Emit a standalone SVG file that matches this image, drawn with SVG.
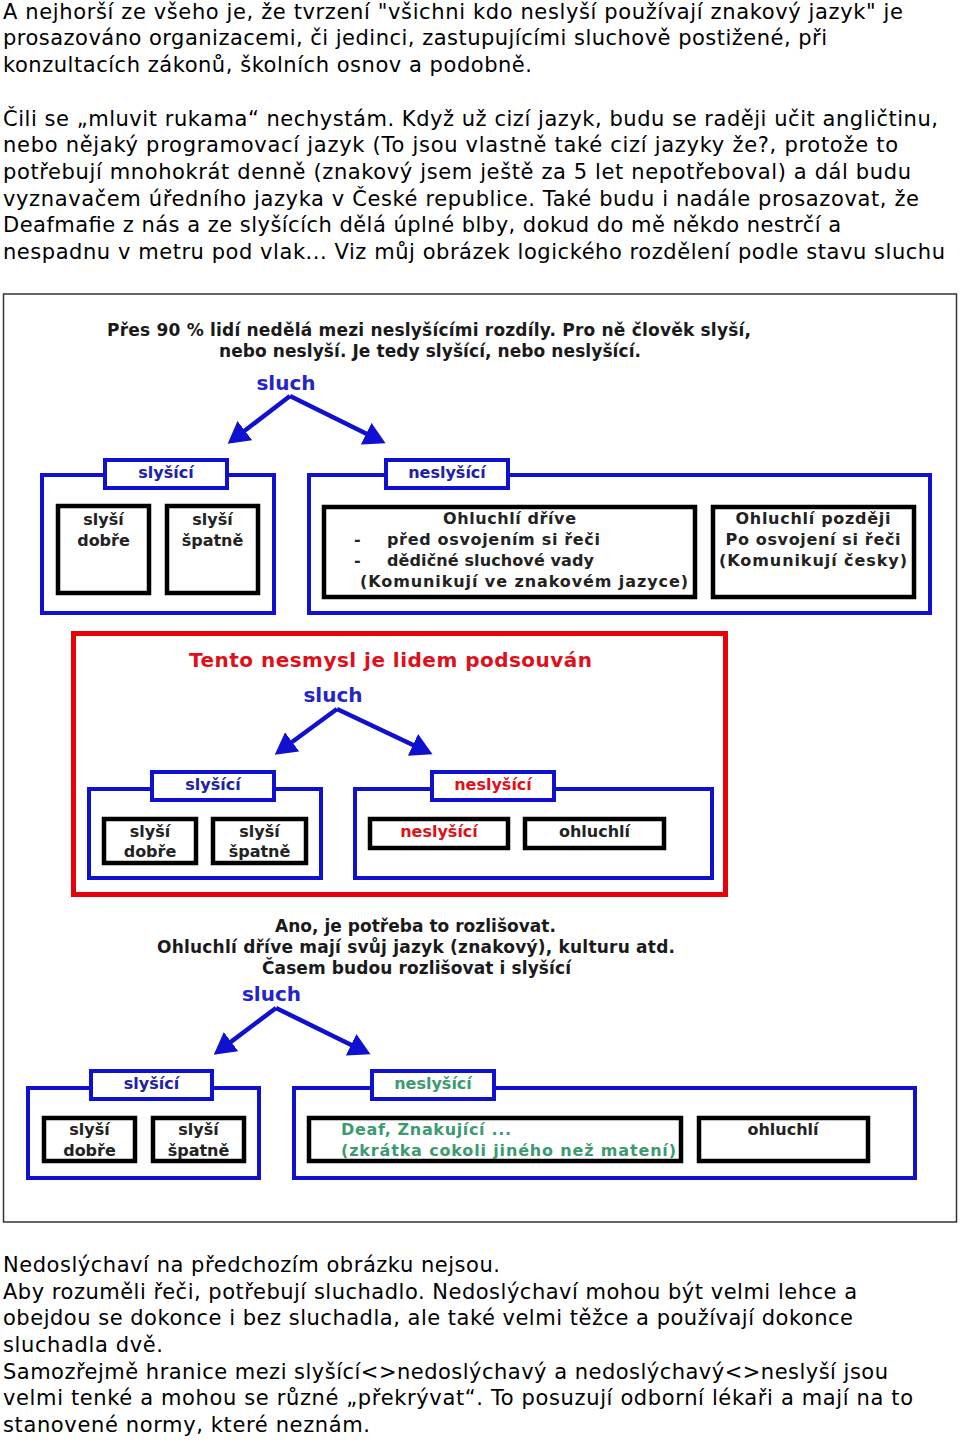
<svg xmlns="http://www.w3.org/2000/svg" width="960" height="1440" viewBox="0 0 960 1440">
<style>
.body{font-family:"DejaVu Sans",Verdana,sans-serif;font-size:21px;fill:#000}
.b{font-family:"DejaVu Sans","Liberation Sans",sans-serif;font-weight:bold;font-size:16px}
.ttl{fill:#1a1a1a;font-size:17px}
.sl{font-size:20px;fill:#2424c8;text-anchor:middle}
.tab{fill:#2020a8;text-anchor:middle}
.red{fill:#e0101a}
.big{font-size:20px}
.grn{fill:#3c9a70}
.dk{fill:#222;text-anchor:middle}
.grp{fill:none;stroke:#1010d0;stroke-width:4}
.tabr{fill:#fff;stroke:#1010d0;stroke-width:4}
.bx{fill:#fff;stroke:#000;stroke-width:4.5}
.arr{stroke:#1010d0;stroke-width:4.5;fill:none;marker-end:url(#ah)}
.mid{text-anchor:middle}
</style>
<defs>
<marker id="ah" markerUnits="userSpaceOnUse" markerWidth="24" markerHeight="24" refX="4" refY="10" orient="auto" viewBox="0 0 20 20">
<path d="M0,0 L18,10 L0,20 z" fill="#1010d0"/>
</marker>
</defs>
<rect width="960" height="1440" fill="#fff"/>

<g id="intro">
<text class="body" x="3" y="19" textLength="900">A nejhorší ze všeho je, že tvrzení "všichni kdo neslyší používají znakový jazyk" je</text>
<text class="body" x="3" y="45" textLength="824">prosazováno organizacemi, či jedinci, zastupujícími sluchově postižené, při</text>
<text class="body" x="3" y="72" textLength="529">konzultacích zákonů, školních osnov a podobně.</text>
<text class="body" x="3" y="126" textLength="935">Čili se „mluvit rukama“ nechystám. Když už cizí jazyk, budu se raději učit angličtinu,</text>
<text class="body" x="3" y="152" textLength="895">nebo nějaký programovací jazyk (To jsou vlastně také cizí jazyky že?, protože to</text>
<text class="body" x="3" y="179" textLength="908">potřebují mnohokrát denně (znakový jsem ještě za 5 let nepotřeboval) a dál budu</text>
<text class="body" x="3" y="206" textLength="916">vyznavačem úředního jazyka v České republice. Také budu i nadále prosazovat, že</text>
<text class="body" x="3" y="232" textLength="838">Deafmafie z nás a ze slyšících dělá úplné blby, dokud do mě někdo nestrčí a</text>
<text class="body" x="3" y="259" textLength="942">nespadnu v metru pod vlak... Viz můj obrázek logického rozdělení podle stavu sluchu</text>
</g>

<rect id="frame" x="3.5" y="294" width="953" height="928" fill="#fff" stroke="#333" stroke-width="1.5"/>

<g id="connectors">
<line class="arr" x1="290" y1="396" x2="241" y2="433.5"/>
<line class="arr" x1="290" y1="396" x2="370.5" y2="435.8"/>
<line class="arr" x1="337" y1="709" x2="288.3" y2="744.7"/>
<line class="arr" x1="337" y1="709" x2="417.3" y2="747"/>
<line class="arr" x1="276" y1="1008" x2="227.2" y2="1044.6"/>
<line class="arr" x1="276" y1="1008" x2="355.4" y2="1046.9"/>
</g>

<g id="s1-title">
<text class="b ttl" x="107" y="336" textLength="644">Přes 90 % lidí nedělá mezi neslyšícími rozdíly. Pro ně člověk slyší,</text>
<text class="b ttl" x="219" y="357" textLength="422">nebo neslyší. Je tedy slyšící, nebo neslyšící.</text>
</g>
<g id="s1-sluch"><text class="b sl" x="286" y="390">sluch</text></g>

<g id="s1-hearing">
<rect class="grp" x="42" y="475" width="232" height="138"/>
<rect class="tabr" x="105" y="460" width="122" height="28"/>
<text class="b tab" x="166" y="478">slyšící</text>
</g>
<g id="s1-good">
<rect class="bx" x="58" y="506" width="91" height="87"/>
<text class="b dk" x="103.5" y="525">slyší</text>
<text class="b dk" x="103.5" y="546">dobře</text>
</g>
<g id="s1-bad">
<rect class="bx" x="167" y="506" width="91" height="87"/>
<text class="b dk" x="212.5" y="525">slyší</text>
<text class="b dk" x="212.5" y="546">špatně</text>
</g>
<g id="s1-deaf">
<rect class="grp" x="309" y="475" width="621" height="138"/>
<rect class="tabr" x="386" y="460" width="122" height="28"/>
<text class="b tab" x="447" y="478">neslyšící</text>
</g>
<g id="s1-early">
<rect class="bx" x="324" y="507" width="371" height="90"/>
<text class="b dk" x="509.5" y="524" textLength="133">Ohluchlí dříve</text>
<text class="b" fill="#222" x="354" y="545">-</text>
<text class="b" fill="#222" x="387" y="545" textLength="213">před osvojením si řeči</text>
<text class="b" fill="#222" x="354" y="566">-</text>
<text class="b" fill="#222" x="387" y="566" textLength="207">dědičné sluchové vady</text>
<text class="b" fill="#222" x="360" y="587" textLength="328">(Komunikují ve znakovém jazyce)</text>
</g>
<g id="s1-late">
<rect class="bx" x="713" y="507" width="201" height="90"/>
<text class="b dk" x="813" y="524" textLength="155">Ohluchlí později</text>
<text class="b dk" x="813" y="545" textLength="175">Po osvojení si řeči</text>
<text class="b dk" x="813" y="566" textLength="188">(Komunikují česky)</text>
</g>

<g id="s2-frame">
<rect x="73.5" y="633.5" width="652" height="261" fill="none" stroke="#e8000a" stroke-width="5"/>
<text class="b red big" x="189" y="667" textLength="403">Tento nesmysl je lidem podsouván</text>
</g>
<g id="s2-sluch"><text class="b sl" x="333" y="702">sluch</text></g>
<g id="s2-hearing">
<rect class="grp" x="89" y="789" width="232" height="89"/>
<rect class="tabr" x="152" y="772" width="122" height="28"/>
<text class="b tab" x="213" y="790">slyšící</text>
</g>
<g id="s2-good">
<rect class="bx" x="104" y="819" width="92" height="44"/>
<text class="b dk" x="150" y="837">slyší</text>
<text class="b dk" x="150" y="857">dobře</text>
</g>
<g id="s2-bad">
<rect class="bx" x="213" y="819" width="93" height="44"/>
<text class="b dk" x="259.5" y="837">slyší</text>
<text class="b dk" x="259.5" y="857">špatně</text>
</g>
<g id="s2-deaf">
<rect class="grp" x="355" y="789" width="357" height="89"/>
<rect class="tabr" x="432" y="772" width="122" height="28"/>
<text class="b red mid" x="493" y="790">neslyšící</text>
</g>
<g id="s2-deaf2">
<rect class="bx" x="370" y="819" width="138" height="29"/>
<text class="b red mid" x="439" y="837">neslyšící</text>
</g>
<g id="s2-deafened">
<rect class="bx" x="525" y="819" width="139" height="29"/>
<text class="b dk" x="594.5" y="837">ohluchlí</text>
</g>

<g id="s3-title">
<text class="b ttl" x="275" y="932" textLength="281">Ano, je potřeba to rozlišovat.</text>
<text class="b ttl" x="157" y="953" textLength="518">Ohluchlí dříve mají svůj jazyk (znakový), kulturu atd.</text>
<text class="b ttl" x="262" y="974" textLength="309">Časem budou rozlišovat i slyšící</text>
</g>
<g id="s3-sluch"><text class="b sl" x="271.5" y="1001">sluch</text></g>
<g id="s3-hearing">
<rect class="grp" x="28" y="1088" width="231" height="90"/>
<rect class="tabr" x="91" y="1071" width="121" height="28"/>
<text class="b tab" x="151.5" y="1089">slyšící</text>
</g>
<g id="s3-good">
<rect class="bx" x="44" y="1118" width="91" height="43"/>
<text class="b dk" x="89.5" y="1135">slyší</text>
<text class="b dk" x="89.5" y="1156">dobře</text>
</g>
<g id="s3-bad">
<rect class="bx" x="153" y="1118" width="91" height="43"/>
<text class="b dk" x="198.5" y="1135">slyší</text>
<text class="b dk" x="198.5" y="1156">špatně</text>
</g>
<g id="s3-deaf">
<rect class="grp" x="294" y="1088" width="621" height="90"/>
<rect class="tabr" x="372" y="1071" width="122" height="28"/>
<text class="b grn mid" x="433" y="1089">neslyšící</text>
</g>
<g id="s3-signers">
<rect class="bx" x="309" y="1118" width="372" height="43"/>
<text class="b grn" x="341" y="1135" textLength="170">Deaf, Znakující ...</text>
<text class="b grn" x="341" y="1156" textLength="335">(zkrátka cokoli jiného než matení)</text>
</g>
<g id="s3-deafened">
<rect class="bx" x="699" y="1118" width="169" height="43"/>
<text class="b dk" x="783" y="1135">ohluchlí</text>
</g>

<g id="outro">
<text class="body" x="3" y="1272" textLength="497">Nedoslýchaví na předchozím obrázku nejsou.</text>
<text class="body" x="3" y="1299" textLength="854">Aby rozuměli řeči, potřebují sluchadlo. Nedoslýchaví mohou být velmi lehce a</text>
<text class="body" x="3" y="1325" textLength="850">obejdou se dokonce i bez sluchadla, ale také velmi těžce a používají dokonce</text>
<text class="body" x="3" y="1352" textLength="160">sluchadla dvě.</text>
<text class="body" x="3" y="1379" textLength="885">Samozřejmě hranice mezi slyšící&lt;&gt;nedoslýchavý a nedoslýchavý&lt;&gt;neslyší jsou</text>
<text class="body" x="3" y="1405" textLength="910">velmi tenké a mohou se různé „překrývat“. To posuzují odborní lékaři a mají na to</text>
<text class="body" x="3" y="1432" textLength="367">stanovené normy, které neznám.</text>
</g>
</svg>
